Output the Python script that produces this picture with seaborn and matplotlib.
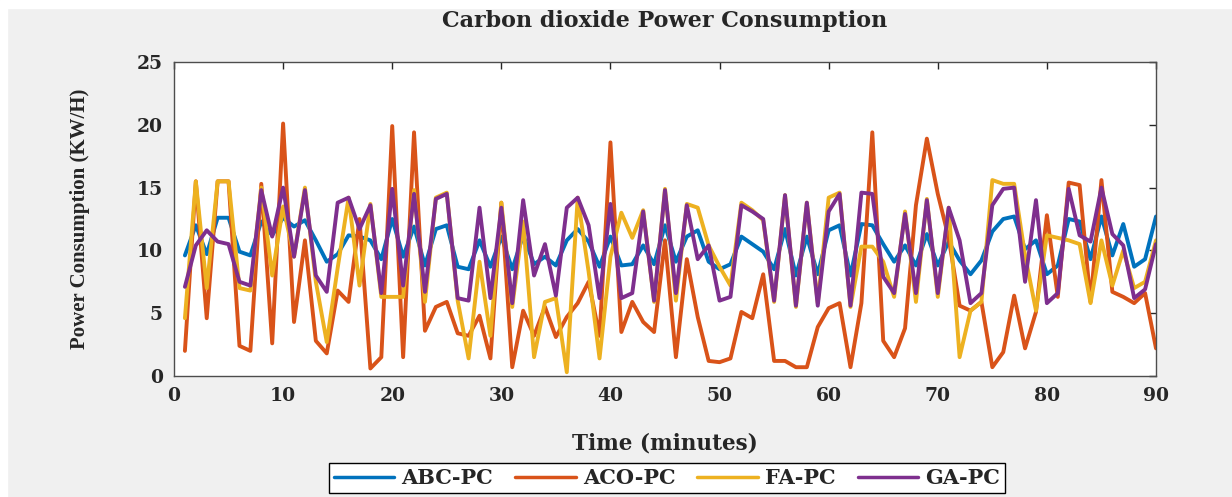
import matplotlib
matplotlib.use("Agg")
import pandas as pd
import matplotlib.pyplot as plt
import seaborn as sns
from matplotlib.patches import Rectangle

# Time axis (minutes)
minutes = list(range(1, 91))

# Power consumption per algorithm (KW/H)
abc_pc = [9.6, 12.0, 9.7, 12.6, 12.6, 9.9, 9.6, 12.3, 11.2, 12.6,
          11.9, 12.4, 10.8, 9.1, 9.7, 11.2, 11.1, 10.8, 9.3, 12.5,
          9.5, 11.9, 8.8, 11.7, 12.0, 8.7, 8.5, 10.8, 8.7, 11.1,
          8.5, 11.2, 8.9, 9.5, 8.8, 10.8, 11.7, 10.7, 8.7, 11.1,
          8.8, 8.9, 10.4, 8.9, 12.0, 9.1, 11.1, 11.6, 9.1, 8.5,
          8.9, 11.1, 10.5, 9.9, 8.5, 11.7, 8.0, 11.1, 8.1, 11.6,
          12.0, 8.0, 12.1, 12.0, 10.5, 9.1, 10.4, 8.8, 11.3, 8.8,
          10.7, 9.2, 8.1, 9.2, 11.5, 12.5, 12.7, 10.1, 10.8, 8.1,
          8.8, 12.5, 12.3, 9.3, 12.7, 9.6, 12.1, 8.7, 9.3, 12.7]

aco_pc = [2.0, 15.5, 4.6, 15.5, 15.5, 2.4, 2.0, 15.3, 2.6, 20.1,
          4.3, 10.8, 2.8, 1.8, 6.8, 5.9, 12.5, 0.6, 1.5, 19.9,
          1.5, 19.4, 3.6, 5.5, 5.9, 3.4, 3.2, 4.8, 1.4, 13.8,
          0.7, 5.2, 3.2, 5.5, 3.1, 4.7, 5.8, 7.5, 3.2, 18.6,
          3.5, 5.9, 4.3, 3.5, 10.8, 1.5, 9.3, 4.7, 1.2, 1.1,
          1.4, 5.1, 4.6, 8.1, 1.2, 1.2, 0.7, 0.7, 3.9, 5.4,
          5.8, 0.7, 5.8, 19.4, 2.8, 1.5, 3.8, 13.6, 18.9, 14.5,
          11.0, 5.6, 5.2, 5.9, 0.7, 1.9, 6.4, 2.2, 5.1, 12.8,
          6.3, 15.4, 15.2, 5.9, 15.6, 6.7, 6.3, 5.8, 6.6, 2.2]

fa_pc = [4.6, 15.5, 7.0, 15.5, 15.5, 7.0, 6.8, 15.0, 8.0, 13.5,
         9.5, 15.0, 7.5, 2.7, 8.6, 14.2, 7.2, 13.7, 6.3, 6.3,
         6.3, 14.8, 5.9, 14.2, 14.6, 6.0, 1.4, 9.1, 3.2, 13.8,
         5.5, 12.3, 1.5, 5.9, 6.2, 0.3, 14.2, 8.3, 1.4, 9.5,
         13.0, 11.0, 13.2, 5.9, 14.9, 6.0, 13.7, 13.4, 10.4, 8.7,
         7.2, 13.8, 13.2, 12.4, 5.9, 14.4, 5.5, 13.8, 5.8, 14.2,
         14.6, 5.5, 10.3, 10.3, 9.1, 6.3, 13.1, 5.9, 14.1, 6.3,
         13.4, 1.5, 5.2, 5.9, 15.6, 15.3, 15.3, 9.6, 5.2, 11.2,
         11.0, 10.8, 10.5, 5.8, 10.8, 7.2, 10.0, 7.0, 7.5, 10.8]

ga_pc = [7.1, 10.4, 11.6, 10.7, 10.5, 7.5, 7.2, 14.8, 11.1, 15.0,
         9.5, 14.8, 8.0, 6.7, 13.8, 14.2, 11.7, 13.6, 6.6, 14.9,
         7.2, 14.5, 6.7, 14.1, 14.5, 6.2, 6.0, 13.4, 6.2, 13.4,
         5.8, 14.0, 8.0, 10.5, 6.4, 13.4, 14.2, 12.0, 6.2, 13.7,
         6.2, 6.6, 13.1, 6.0, 14.8, 6.6, 13.6, 9.3, 10.4, 6.0,
         6.3, 13.6, 13.1, 12.5, 6.0, 14.4, 5.6, 13.8, 5.6, 13.1,
         14.5, 5.6, 14.6, 14.5, 7.9, 6.6, 12.9, 6.6, 14.0, 6.6,
         13.4, 10.8, 5.8, 6.6, 13.6, 14.9, 15.0, 7.5, 14.0, 5.8,
         6.6, 14.9, 11.2, 10.7, 15.0, 11.3, 10.4, 6.2, 6.9, 10.5]

methods = ["ABC-PC", "ACO-PC", "FA-PC", "GA-PC"]
colors = ["#0072BD", "#D95319", "#EDB120", "#7E2F8E"]
x_ticks = [0, 10, 20, 30, 40, 50, 60, 70, 80, 90]
y_ticks = [0, 5, 10, 15, 20, 25]

df = pd.DataFrame({"Time": minutes, "ABC-PC": abc_pc, "ACO-PC": aco_pc,
                   "FA-PC": fa_pc, "GA-PC": ga_pc})
long_df = df.melt(id_vars="Time", var_name="Method", value_name="PC")

sns.set_style("white")
plt.rcParams["font.family"] = ["DejaVu Serif"]
plt.rcParams["font.weight"] = "bold"

W, H = 1232, 497
fig = plt.figure(figsize=(W / 100, H / 100), dpi=100, facecolor="#f0f0f0")

# white strips at the border like the screenshot
fig.add_artist(Rectangle((0, 1 - 8 / H), 1, 8 / H, transform=fig.transFigure,
                         color="white", zorder=0))
fig.add_artist(Rectangle((0, 0), 7 / W, 1, transform=fig.transFigure,
                         color="white", zorder=0))

ax = fig.add_axes([174 / W, 1 - 376 / H, (1156 - 174) / W, (376 - 62) / H])
ax.set_facecolor("white")

sns.lineplot(data=long_df, x="Time", y="PC", hue="Method", hue_order=methods,
             palette=dict(zip(methods, colors)), linewidth=2.8,
             estimator=None, sort=False, ax=ax)

ax.set_xlim(0, 90)
ax.set_ylim(0, 25)
ax.set_xticks(x_ticks)
ax.set_yticks(y_ticks)
ax.tick_params(direction="in", top=True, right=True, length=5, width=1,
               color="#262626", labelsize=13.5, pad=8)
for lab in ax.get_xticklabels() + ax.get_yticklabels():
    lab.set_fontweight("bold")
for sp in ax.spines.values():
    sp.set_color("#4d4d4d")
    sp.set_linewidth(1.0)

ax.set_xlabel("Time (minutes)", fontsize=15.5, fontweight="bold")
ax.xaxis.set_label_coords(0.5, -0.18)
ax.set_ylabel("Power Consumption (KW/H)", fontsize=15, fontweight="bold",
              family="Liberation Serif")
ax.yaxis.set_label_coords(-0.086, 0.5)

fig.text(665 / W, 1 - 21 / H, "Carbon dioxide Power Consumption",
         ha="center", va="center", fontsize=16, fontweight="bold")

handles, labels = ax.get_legend_handles_labels()
ax.get_legend().remove()
for h in handles:
    h.set_linewidth(2.5)
fig.legend(handles, labels, loc="center", bbox_to_anchor=(667 / W, 1 - 478 / H),
           ncol=4, frameon=True, fancybox=False, edgecolor="black", framealpha=1,
           prop={"family": "DejaVu Serif", "weight": "bold", "size": 15},
           handlelength=2.9, handletextpad=0.35, columnspacing=1.05,
           borderpad=0.25).get_frame().set_linewidth(1.0)

fig.savefig("out.png", dpi=100, facecolor=fig.get_facecolor())
